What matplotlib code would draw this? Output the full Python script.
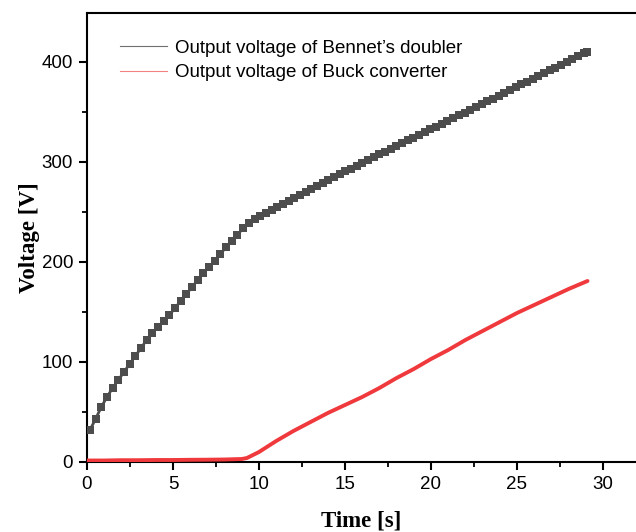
import matplotlib.pyplot as plt
from matplotlib.lines import Line2D
from matplotlib.ticker import MultipleLocator

# Output voltage of Bennet's doubler (one value per charging step)
t_bennet = [0.17, 0.50, 0.83, 1.16, 1.49, 1.82, 2.15, 2.48, 2.81, 3.14,
            3.47, 3.80, 4.13, 4.46, 4.79, 5.12, 5.45, 5.78, 6.11, 6.44,
            6.77, 7.10, 7.43, 7.76, 8.09, 8.42, 8.75, 9.08, 9.41, 9.74,
            10.07, 10.40, 10.73, 11.06, 11.39, 11.72, 12.05, 12.38, 12.71, 13.04,
            13.37, 13.70, 14.03, 14.36, 14.69, 15.02, 15.35, 15.68, 16.01, 16.34,
            16.67, 17.00, 17.33, 17.66, 17.99, 18.32, 18.65, 18.98, 19.31, 19.64,
            19.97, 20.30, 20.63, 20.96, 21.29, 21.62, 21.95, 22.28, 22.61, 22.94,
            23.27, 23.60, 23.93, 24.26, 24.59, 24.92, 25.25, 25.58, 25.91, 26.24,
            26.57, 26.90, 27.23, 27.56, 27.89, 28.22, 28.55, 28.88, 29.10]
v_bennet = [32, 43, 55, 65, 74, 82, 90, 98, 106, 114,
            122, 129, 135, 141, 147, 154, 161, 168, 175, 182,
            189, 195, 201, 208, 215, 221, 227, 234, 239, 243,
            246, 249, 252, 255, 258, 261, 264, 267, 270, 273,
            276, 279, 282, 285, 288, 291, 293, 296, 299, 302,
            305, 308, 310, 313, 316, 319, 322, 324, 327, 330,
            333, 335, 338, 341, 344, 347, 349, 352, 355, 358,
            361, 363, 366, 369, 372, 375, 378, 380, 383, 386,
            389, 392, 394, 397, 400, 403, 406, 409, 410]

# Output voltage of Buck converter
t_buck = [0, 1, 2, 3, 4, 5, 6, 7, 8, 9, 9.3, 10, 11, 12, 13, 14, 15, 16,
          17, 18, 19, 20, 21, 22, 23, 24, 25, 26, 27, 28, 29.1]
v_buck = [1.5, 1.5, 1.8, 1.8, 2, 2, 2.2, 2.3, 2.5, 3, 4, 10, 21, 31, 40, 49, 57, 65,
          74, 84, 93, 103, 112, 122, 131, 140, 149, 157, 165, 173, 181]

labels = ["Output voltage of Bennet\u2019s doubler", "Output voltage of Buck converter"]

fig = plt.figure(figsize=(6.36, 5.32), dpi=100)
ax = fig.add_axes([87 / 636, 1 - 462 / 532, 1 - 87 / 636, (462 - 13) / 532])

ax.plot(t_buck, v_buck, color='#f0393c', lw=2.8, solid_capstyle='round', zorder=3)
ax.plot(t_bennet, v_bennet, color='#4d4d4d', lw=2.0, marker='s', markersize=5.2,
        markeredgewidth=0, zorder=4)

ax.set_xlim(0, 31.92)
ax.set_ylim(0, 449)
ax.xaxis.set_major_locator(MultipleLocator(5))
ax.xaxis.set_minor_locator(MultipleLocator(2.5))
ax.yaxis.set_major_locator(MultipleLocator(100))
ax.yaxis.set_minor_locator(MultipleLocator(50))

for side in ['left', 'bottom', 'top']:
    ax.spines[side].set_linewidth(1.5)
ax.spines['right'].set_visible(False)
ax.tick_params(which='major', direction='out', length=6, width=1.5,
               labelsize=13.5, pad=4)
ax.tick_params(which='minor', direction='out', length=3.5, width=1.3)
ax.tick_params(top=False, right=False, which='both')
for lab in ax.get_xticklabels() + ax.get_yticklabels():
    lab.set_fontfamily('Liberation Sans')

ax.set_xlabel('Time [s]', fontfamily='Liberation Serif', fontweight='bold',
              fontsize=16.5, labelpad=13)
ax.set_ylabel('Voltage [V]', fontfamily='Liberation Serif', fontweight='bold',
              fontsize=16.5, labelpad=1)

handles = [Line2D([], [], color='#707070', lw=0.8),
           Line2D([], [], color='#f28080', lw=0.8)]
ax.legend(handles, labels, loc='upper left', bbox_to_anchor=(0.029, 0.978),
          frameon=False, handlelength=2.5, handletextpad=0.45, labelspacing=0.38,
          prop={'family': 'Liberation Sans', 'size': 13.5})

fig.savefig('out.png', dpi=100)
